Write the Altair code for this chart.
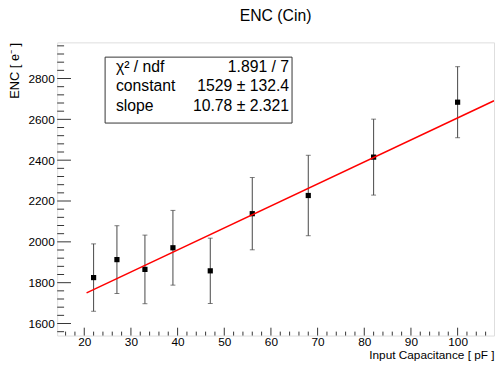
import altair as alt
import pandas as pd

# ---- data ----
cap = [22, 27, 33, 39, 47, 56, 68, 82, 100]            # Input capacitance [pF]
enc = [1825, 1913, 1865, 1971, 1858, 2138, 2227, 2415, 2684]  # ENC [e-]
err = [165, 166, 168, 183, 160, 177, 197, 186, 174]    # symmetric errors

fit_const = 1529.0
fit_slope = 10.78
fit_x = [20.5, 107.8]

stat_names = ["χ² / ndf", "constant", "slope"]
stat_values = ["1.891 / 7", "1529 ± 132.4", "10.78 ± 2.321"]

x_major = [20, 30, 40, 50, 60, 70, 80, 90, 100]
x_minor = [v for v in range(16, 107, 2) if v % 10 != 0]
y_major = [1600, 1800, 2000, 2200, 2400, 2600, 2800]
y_minor = [v for v in range(1560, 2961, 40) if v % 200 != 0]

X_DOMAIN = [14.2, 107.8]
Y_DOMAIN = [1541, 2977]

FONT = "Liberation Sans"
W, H = 444, 298
INK = "#333333"

pts = pd.DataFrame({
    "cap": cap,
    "enc": enc,
    "lo": [e - d for e, d in zip(enc, err)],
    "hi": [e + d for e, d in zip(enc, err)],
})
fit = pd.DataFrame({"cap": fit_x, "enc": [fit_const + fit_slope * x for x in fit_x]})

xs = alt.Scale(domain=X_DOMAIN, nice=False, zero=False)
ys = alt.Scale(domain=Y_DOMAIN, nice=False, zero=False)

x_axis = alt.Axis(
    values=x_major, ticks=False, domain=False, grid=False, format="d",
    labelFont=FONT, labelFontSize=12, labelColor="black", labelPadding=1,
    title="Input Capacitance [ pF ]", titleFont=FONT, titleFontSize=12,
    titleFontWeight="normal", titleColor="black",
    titleAlign="right", titleAnchor="end", titleX=W, titleY=23,
    titleBaseline="alphabetic",
)
y_axis = alt.Axis(
    values=y_major, ticks=False, domain=False, grid=False, format="d",
    labelFont=FONT, labelFontSize=12, labelColor="black", labelPadding=3,
    title="ENC [ e⁻ ]", titleFont=FONT, titleFontSize=13,
    titleFontWeight="normal", titleColor="black",
    titleAngle=270, titleAlign="right", titleBaseline="alphabetic",
    titleX=-39, titleY=0,
)

base = alt.Chart(pts)

errbars = base.mark_rule(color="#444444", strokeWidth=1).encode(
    x=alt.X("cap:Q", scale=xs, axis=x_axis),
    y=alt.Y("lo:Q", scale=ys, axis=y_axis),
    y2="hi:Q",
)
caps_lo = base.mark_tick(color="#444444", orient="horizontal", size=5, thickness=1).encode(
    x="cap:Q", y="lo:Q")
caps_hi = base.mark_tick(color="#444444", orient="horizontal", size=5, thickness=1).encode(
    x="cap:Q", y="hi:Q")
points = base.mark_square(color="black", size=28, opacity=1).encode(x="cap:Q", y="enc:Q")

fit_line = alt.Chart(fit).mark_line(color="#ff0000", strokeWidth=1.5, clip=True).encode(
    x="cap:Q", y="enc:Q")

xmaj = alt.Chart(pd.DataFrame({"v": x_major})).mark_rule(color=INK).encode(
    x="v:Q", y=alt.value(H), y2=alt.value(H - 8))
xmin = alt.Chart(pd.DataFrame({"v": x_minor})).mark_rule(color=INK).encode(
    x="v:Q", y=alt.value(H), y2=alt.value(H - 4))
ymaj = alt.Chart(pd.DataFrame({"v": y_major})).mark_rule(color=INK).encode(
    y="v:Q", x=alt.value(0), x2=alt.value(14))
ymin = alt.Chart(pd.DataFrame({"v": y_minor})).mark_rule(color=INK).encode(
    y="v:Q", x=alt.value(0), x2=alt.value(7))

one = pd.DataFrame({"k": [0]})
box = alt.Chart(one).mark_rect(fill="white", stroke=INK, strokeWidth=1).encode(
    x=alt.value(48.7), x2=alt.value(238.7), y=alt.value(15), y2=alt.value(82))

stat_layers = []
row_y = [30, 49.5, 69.3]
for i in range(len(stat_names)):
    stat_layers.append(
        alt.Chart(one).mark_text(font=FONT, fontSize=16, align="left",
                                 baseline="alphabetic", color="black").encode(
            x=alt.value(59.7), y=alt.value(row_y[i]), text=alt.value(stat_names[i])))
    stat_layers.append(
        alt.Chart(one).mark_text(font=FONT, fontSize=16, align="right",
                                 baseline="alphabetic", color="black").encode(
            x=alt.value(235.7), y=alt.value(row_y[i]), text=alt.value(stat_values[i])))

chart = alt.layer(
    errbars, caps_lo, caps_hi, points, fit_line,
    xmaj, xmin, ymaj, ymin, box, *stat_layers,
).properties(
    width=W, height=H,
    title=alt.TitleParams("ENC (Cin)", font=FONT, fontSize=16, fontWeight="normal",
                          color="black", anchor="middle", frame="group",
                          baseline="alphabetic", offset=6),
    autosize=alt.AutoSizeParams(type="none"),
    padding={"left": 50, "top": 32, "right": 1, "bottom": 28},
).configure_view(stroke=INK, strokeWidth=1).configure(background="white")

chart.save("out.html", embed_options={"renderer": "svg", "actions": False})
